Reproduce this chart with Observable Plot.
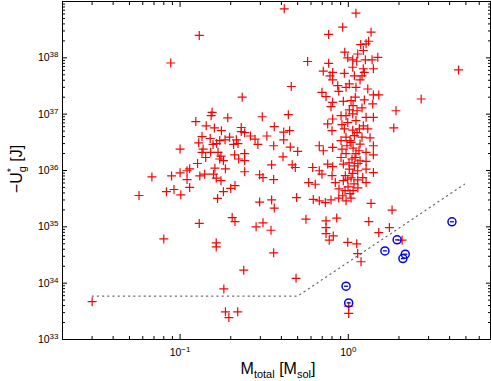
<!DOCTYPE html>
<html><head><meta charset="utf-8">
<script src="https://cdn.jsdelivr.net/npm/d3@7"></script>
<script src="https://cdn.jsdelivr.net/npm/@observablehq/plot@0.6"></script>
<style>
html,body{margin:0;padding:0;background:#fff;}
#chart svg{display:block;}
</style></head><body><div id="chart"></div>
<script>
// Red "+" markers: total mass [M_sol] and -U*_g [J]
const crossMass = [
0.13,0.088,0.234,0.155,0.153,0.192,0.308,0.44,0.124,0.143,0.160,0.176,0.231,0.231,0.242,0.363,0.448,0.413,
0.135,0.151,0.172,0.197,0.216,0.262,0.279,0.328,0.413,0.129,0.157,0.165,0.185,0.208,0.221,0.290,0.360,0.452,
0.100,0.137,0.135,0.152,0.168,0.175,0.211,0.242,0.142,0.172,0.181,0.223,0.242,0.409,0.127,0.161,0.186,0.242,
0.350,0.464,0.114,0.110,0.100,0.089,0.068,0.131,0.140,0.158,0.164,0.175,0.110,0.297,0.311,0.360,0.114,0.092,
0.083,0.101,0.057,0.212,0.200,0.181,0.167,0.297,0.350,0.363,0.204,0.212,0.130,0.283,0.311,0.347,0.080,0.164,
0.164,0.360,0.239,0.182,0.030,0.186,0.195,0.220,
1.11,0.926,0.764,1.365,1.32,1.275,1.185,0.952,1.228,1.137,0.573,0.764,0.992,1.062,1.122,1.262,1.384,1.496,
1.409,0.710,0.807,0.778,0.947,1.062,1.086,1.228,1.206,1.174,1.245,0.458,0.807,0.865,0.969,1.014,1.11,1.305,
0.697,0.737,0.877,1.10,1.245,1.409,1.517,0.807,0.789,0.934,1.038,1.397,1.206,1.014,1.062,0.905,1.275,1.409,
0.754,0.807,0.917,0.992,1.11,1.228,0.80,0.947,1.062,1.163,1.305,0.969,1.086,1.206,1.346,1.038,1.174,1.409,
0.672,0.807,0.710,0.917,0.50,0.969,1.11,1.275,1.409,0.905,1.052,1.174,1.275,0.934,1.086,0.754,0.484,0.614,
0.672,0.807,1.014,1.137,1.275,1.409,0.697,0.80,0.96,1.062,1.218,0.581,0.636,0.837,0.934,0.992,1.137,1.275,
0.493,0.619,0.672,0.73,0.789,0.877,0.926,0.969,1.038,1.365,1.82,0.56,0.737,0.853,1.323,0.737,0.737,0.814,
0.77,1.517,1.754,2.087,0.992,1.122,1.137,1.19,0.489,1.005,1.005,4.52,2.71,1.92,1.863,0.416,
1.023,1.067,1.127,0.982,1.096,1.01,1.14,1.038,1.08,0.996,1.067,1.14,0.956,1.023,0.88,0.905,1.157,0.969,
1.067,1.127
];
const crossEnergy = [
2.5e38,8.1e37,2.0e37,1.08e37,9.4e36,8.6e36,9.0e36,9.8e36,7.4e36,6.2e36,5.7e36,5.1e36,5.8e36,4.9e36,4.7e36,6.0e36,5.1e36,4.8e36,
4.0e36,3.7e36,3.4e36,3.9e36,3.5e36,4.1e36,3.6e36,4.1e36,3.5e36,3.1e36,2.9e36,3.0e36,3.5e36,2.9e36,3.0e36,2.9e36,2.75e36,2.6e36,
2.4e36,2.4e36,2.1e36,2.1e36,2.1e36,1.8e36,1.9e36,2.0e36,1.7e36,1.6e36,1.5e36,1.6e36,1.5e36,1.75e36,1.33e36,1.1e36,1.07e36,9.5e35,
1.26e36,1.26e36,1.07e36,9.9e35,9.1e35,8.0e35,7.7e35,8.0e35,8.6e35,8.6e35,7.3e35,6.6e35,6.9e35,8.4e35,7.5e35,6.9e35,5.0e35,4.6e35,
4.2e35,3.7e35,3.6e35,5.4e35,4.8e35,4.2e35,3.2e35,2.75e35,3.0e35,2.15e35,1.46e35,1.24e35,1.15e35,1.0e35,1.18e35,8.7e34,6.1e34,5.2e34,
4.4e34,3.45e34,1.7e34,7.9e33,4.7e33,3.1e33,2.45e33,3.1e33,
6.2e38,3.5e38,2.6e38,2.85e38,1.97e38,1.77e38,1.72e38,1.26e38,1.35e38,1.17e38,8.6e37,8.0e37,1.0e38,9.2e37,8.7e37,9.2e37,9.2e37,1.02e38,
6.4e37,5.8e37,5.5e37,4.8e37,5.3e37,6.8e37,4.8e37,6.4e37,4.8e37,4.06e37,5.5e37,3.1e37,4.06e37,3.2e37,3.0e37,3.44e37,3.0e37,2.8e37,
2.44e37,2.05e37,2.54e37,2.0e37,1.79e37,2.2e37,2.2e37,1.62e37,1.36e37,1.69e37,1.74e37,1.52e37,1.29e37,1.19e37,1.01e37,9.4e36,8.8e36,8.8e36,
6.7e36,8.2e36,6.5e36,7.1e36,7.7e36,6.2e36,5.1e36,5.5e36,5.2e36,5.5e36,5.5e36,3.9e36,4.15e36,3.9e36,3.8e36,3.15e36,2.95e36,2.75e36,
2.75e36,2.57e36,2.24e36,2.4e36,2.18e36,2.0e36,2.0e36,2.1e36,1.9e36,1.7e36,1.6e36,1.49e36,1.45e36,1.3e36,1.21e36,1.3e36,1.13e36,1.13e36,
9.9e35,1.17e36,1.06e36,9.9e35,1.06e36,9.2e35,8.6e35,8.1e35,8.1e35,8.9e35,7.5e35,6.1e35,5.7e35,6.1e35,6.6e35,7.0e35,6.8e35,6.1e35,
3.3e35,3.06e35,2.9e35,2.7e35,3.0e35,3.24e35,3.56e35,2.9e35,3.24e35,2.6e35,1.98e35,1.37e35,1.28e35,1.43e35,1.24e35,9.7e34,7.6e34,6.9e34,
5.8e34,7.9e34,9.7e34,5.8e34,5.3e34,5.0e34,3.35e34,2.4e34,1.22e34,3.9e33,2.9e33,6.1e37,1.86e37,1.15e37,5.7e36,7.4e38,
3.4e36,2.5e36,4.7e36,2.75e36,1.7e36,1.37e36,1.33e36,7.4e35,5.8e35,5.1e35,4.4e35,4.9e35,4.4e35,3.9e35,4.7e35,3.4e36,2.24e36,9.4e36,
1.42e37,1.15e37
];
// Blue circled markers
const circleMass = [1.95, 1.65, 2.18, 2.11, 0.969, 1.005, 4.13];
const circleEnergy = [5.87e34, 3.74e34, 3.27e34, 2.73e34, 8.83e33, 4.46e33, 1.23e35];
// Dotted boundary line
const limitMass = [0.03, 0.5, 4.9];
const limitEnergy = [5.9e33, 5.9e33, 5.7e35];
// Ticks
const xDomain = [0.02, 7];
const yDomain = [1e33, 1e39];
const xMajorTicks = [0.1, 1];
const xMinorTicks = [0.02,0.03,0.04,0.05,0.06,0.07,0.08,0.09,0.2,0.3,0.4,0.5,0.6,0.7,0.8,0.9,2,3,4,5,6,7];
const yMajorTicks = [1e33, 1e34, 1e35, 1e36, 1e37, 1e38, 1e39];
const yLabelTicks = [1e33, 1e34, 1e35, 1e36, 1e37, 1e38];
const yMinorMantissas = [2,3,4,5,6,7,8,9];
const yMinorTicks = [33,34,35,36,37,38].flatMap(e => yMinorMantissas.map(m => m * Math.pow(10, e)));

const crosses = crossMass.map((m, i) => ({m, u: crossEnergy[i]}));
const circles = circleMass.map((m, i) => ({m, u: circleEnergy[i]}));
const limit = limitMass.map((m, i) => ({m, u: limitEnergy[i]}));

const plusSymbol = {draw(ctx, size) {const r = Math.sqrt(size / Math.PI); ctx.moveTo(-r, 0); ctx.lineTo(r, 0); ctx.moveTo(0, -r); ctx.lineTo(0, r);}};
const dashSymbol = {draw(ctx, size) {const r = Math.sqrt(size / Math.PI); ctx.moveTo(-r, 0); ctx.lineTo(r, 0);}};
const expFormat = d => "10^" + Math.round(Math.log10(d));
const noText = () => "";

const font = "'Liberation Sans', Arial, Helvetica, sans-serif";
const W = 491, H = 381;
const chart = Plot.plot({
  width: W, height: H,
  marginLeft: 62, marginRight: 1, marginTop: 1, marginBottom: 42,
  style: {fontFamily: font, background: "#fff", color: "#000", overflow: "visible"},
  x: {type: "log", domain: xDomain, axis: null},
  y: {type: "log", domain: yDomain, axis: null},
  marks: [
    Plot.line(limit, {x: "m", y: "u", stroke: "#666", strokeWidth: 1.2, strokeDasharray: "1.2,4"}),
    Plot.dot(crosses, {x: "m", y: "u", symbol: plusSymbol, r: 4.5, fill: "none", stroke: "#ff0000", strokeWidth: 1.2}),
    Plot.dot(circles, {x: "m", y: "u", r: 4, fill: "none", stroke: "#0000ff", strokeWidth: 1.5}),
    Plot.dot(circles, {x: "m", y: "u", symbol: dashSymbol, r: 2, fill: "none", stroke: "#0000ff", strokeWidth: 1.3}),
    Plot.axisX({anchor: "bottom", ticks: xMajorTicks, tickSize: -5, tickFormat: noText, label: null}),
    Plot.axisX({anchor: "bottom", ticks: xMinorTicks, tickSize: -3, tickFormat: noText, label: null}),
    Plot.axisX({anchor: "top", ticks: xMajorTicks, tickSize: -5, tickFormat: noText, label: null}),
    Plot.axisX({anchor: "top", ticks: xMinorTicks, tickSize: -3, tickFormat: noText, label: null}),
    Plot.axisY({anchor: "left", ticks: yMajorTicks, tickSize: -5, tickFormat: noText, label: null}),
    Plot.axisY({anchor: "left", ticks: yMinorTicks, tickSize: -3, tickFormat: noText, label: null}),
    Plot.axisY({anchor: "right", ticks: yMajorTicks, tickSize: -5, tickFormat: noText, label: null}),
    Plot.axisY({anchor: "right", ticks: yMinorTicks, tickSize: -3, tickFormat: noText, label: null}),
    Plot.axisX({anchor: "bottom", ticks: xMajorTicks, tickSize: 0, tickPadding: 9, tickFormat: expFormat, label: null, fontSize: 10.5}),
    Plot.axisY({anchor: "left", ticks: yLabelTicks, tickSize: 0, tickPadding: 4, tickFormat: expFormat, label: null, fontSize: 10.5}),
    Plot.frame({stroke: "#000", strokeWidth: 1})
  ]
});

const ns = "http://www.w3.org/2000/svg";
chart.querySelectorAll("text").forEach(t => {
  if (t.textContent === "") { t.remove(); return; }
  const m = /^10\^(.+)$/.exec(t.textContent);
  if (!m) return;
  t.textContent = "10";
  const ts = document.createElementNS(ns, "tspan");
  ts.setAttribute("dy", "-0.5em");
  ts.setAttribute("font-size", "8");
  ts.textContent = m[1].replace("-", "\u2212");
  t.appendChild(ts);
});

const svg = d3.select(chart);
// x-axis label
const xl = svg.append("text").attr("x", 278).attr("y", 374).attr("text-anchor", "middle")
  .attr("font-size", 16).attr("font-family", font).attr("fill", "#000");
xl.append("tspan").text("M");
xl.append("tspan").attr("font-size", 11).attr("dy", 4).text("total");
xl.append("tspan").attr("dy", -4).text(" [M");
xl.append("tspan").attr("font-size", 11).attr("dy", 4).text("sol");
xl.append("tspan").attr("dy", -4).text("]");
// y-axis label
const yl = svg.append("text").attr("transform", "translate(22,169) rotate(-90)").attr("text-anchor", "middle")
  .attr("font-size", 16).attr("font-family", font).attr("fill", "#000");
yl.append("tspan").text("\u2212U");
yl.append("tspan").attr("font-size", 11).attr("dy", -7).text("*");
yl.append("tspan").attr("font-size", 11).attr("dx", -4.3).attr("dy", 11).text("g");
yl.append("tspan").attr("dy", -4).text(" [J]");

document.getElementById("chart").appendChild(chart);
</script></body></html>
